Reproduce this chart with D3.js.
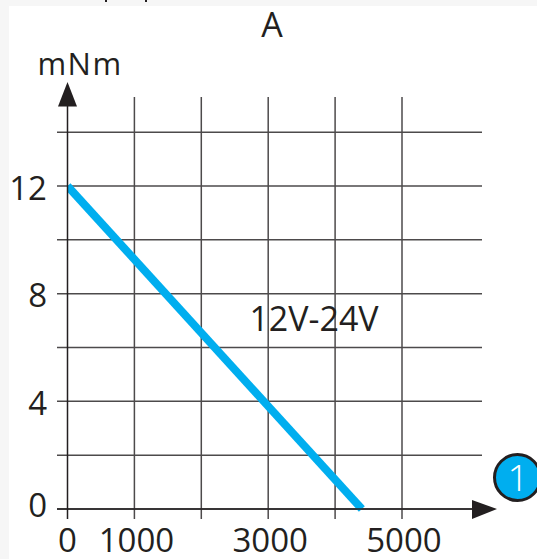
<!DOCTYPE html>
<html>
<head>
<meta charset="utf-8">
<script src="https://cdn.jsdelivr.net/npm/d3@7"></script>
<style>
html, body { margin: 0; padding: 0; background: #f6f6f6; }
svg { display: block; }
text { font-family: "Open Sans", "Noto Sans", sans-serif; fill: #231f20; }
</style>
</head>
<body>
<div id="chart"></div>
<script>
'use strict';

const speedGrid = [0, 1000, 2000, 3000, 4000, 5000];
const speedLabels = [0, 1000, 3000, 5000];
const torqueGrid = [0, 2, 4, 6, 8, 10, 12, 14];
const torqueLabels = [0, 4, 8, 12];
const curveSpeed = [0, 4400];
const curveTorque = [12, 0];

const ink = '#231f20';
const gridInk = '#4d4a4b';

const svg = d3.select('#chart').append('svg')
	.attr('width', 537)
	.attr('height', 559);

// white sheet, the page shows along the top and left
svg.append('rect')
	.attr('x', 9)
	.attr('y', 6)
	.attr('width', 528)
	.attr('height', 553)
	.style('fill', '#fff');

// bits of the line above that the crop left behind
svg.append('g').selectAll('rect')
	.data([105, 145])
	.enter().append('rect')
	.attr('x', d => d)
	.attr('y', 0)
	.attr('width', 2)
	.attr('height', 2)
	.style('fill', ink);

const xScale = d3.scaleLinear().domain([0, 5000]).range([67.5, 402]);
const yScale = d3.scaleLinear().domain([0, 12]).range([509, 186]);

// grid
svg.append('g').selectAll('line')
	.data(speedGrid.slice(1))
	.enter().append('line')
	.attr('x1', d => xScale(d))
	.attr('x2', d => xScale(d))
	.attr('y1', 97)
	.attr('y2', 519)
	.style('stroke', gridInk)
	.style('stroke-width', 1.5);

svg.append('g').selectAll('line')
	.data(torqueGrid)
	.enter().append('line')
	.attr('x1', 57)
	.attr('x2', 482)
	.attr('y1', d => yScale(d))
	.attr('y2', d => yScale(d))
	.style('stroke', gridInk)
	.style('stroke-width', 1.5);

// the curve stops at the y axis
svg.append('clipPath')
	.attr('id', 'plot')
	.append('rect')
	.attr('x', xScale(0))
	.attr('y', 0)
	.attr('width', 470)
	.attr('height', 559);

const line = d3.line()
	.x(d => xScale(d[0]))
	.y(d => yScale(d[1]));

svg.append('path')
	.datum(d3.zip(curveSpeed, curveTorque))
	.attr('d', line)
	.attr('clip-path', 'url(#plot)')
	.style('fill', 'none')
	.style('stroke', '#00aeef')
	.style('stroke-width', 8);

// axes with arrow heads
svg.append('line')
	.attr('x1', xScale(0))
	.attr('x2', xScale(0))
	.attr('y1', 519)
	.attr('y2', 100)
	.style('stroke', ink)
	.style('stroke-width', 1.5);

svg.append('line')
	.attr('x1', 57)
	.attr('x2', 476)
	.attr('y1', yScale(0))
	.attr('y2', yScale(0))
	.style('stroke', ink)
	.style('stroke-width', 1.5);

svg.append('path')
	.attr('d', d3.line()([[58, 106.5], [67.5, 82], [77, 106.5]]) + 'Z')
	.style('fill', ink);

svg.append('path')
	.attr('d', d3.line()([[472, 500], [497, 509], [472, 519]]) + 'Z')
	.style('fill', ink);

// tick labels
svg.append('g').selectAll('text')
	.data(speedLabels)
	.enter().append('text')
	.attr('x', d => xScale(d) + (d ? 2 : 0))
	.attr('y', 552)
	.style('text-anchor', 'middle')
	.style('font-size', '33px')
	.text(d => d);

// the 0 sits higher than the other labels in the picture
svg.append('g').selectAll('text')
	.data(torqueLabels)
	.enter().append('text')
	.attr('x', 47)
	.attr('y', d => yScale(d) + (d ? 13.5 : 8))
	.style('text-anchor', 'end')
	.style('font-size', '33px')
	.text(d => d);

svg.append('text')
	.attr('x', 272)
	.attr('y', 37)
	.style('text-anchor', 'middle')
	.style('font-size', '34px')
	.text('A');

svg.append('text')
	.attr('x', 80)
	.attr('y', 75)
	.style('text-anchor', 'middle')
	.style('font-size', '31px')
	.style('letter-spacing', '1.5px')
	.text('mNm');

svg.append('text')
	.attr('x', 314)
	.attr('y', 331)
	.style('text-anchor', 'middle')
	.style('font-size', '34px')
	.text('12V-24V');

// numbered badge
svg.append('circle')
	.attr('cx', 517.5)
	.attr('cy', 477.5)
	.attr('r', 23)
	.style('fill', '#00aeef')
	.style('stroke', ink)
	.style('stroke-width', 3);

svg.append('text')
	.attr('x', 518)
	.attr('y', 491)
	.style('text-anchor', 'middle')
	.style('font-size', '37px')
	.style('font-weight', 300)
	.style('fill', '#fff')
	.text('1');
</script>
</body>
</html>
